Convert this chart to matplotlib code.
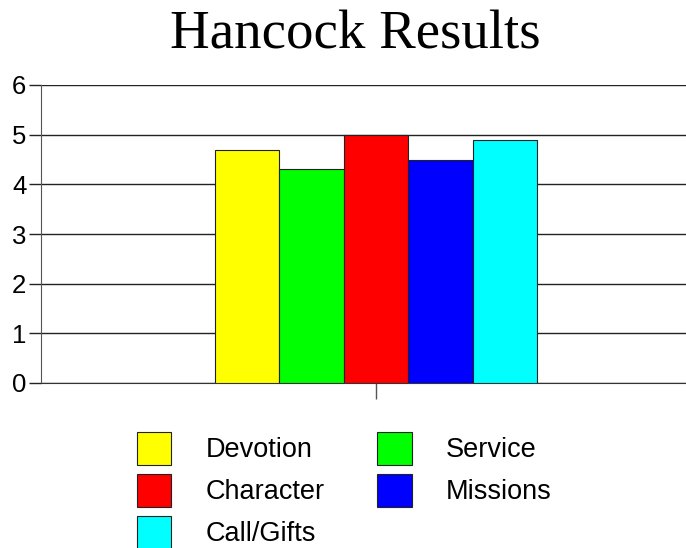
import matplotlib.pyplot as plt
import numpy as np
from matplotlib.patches import Patch

# Data
categories = ['Devotion', 'Service', 'Character', 'Missions', 'Call/Gifts']
scores     = [4.7, 4.3, 5.0, 4.5, 4.9]
colors     = ['#FFFF00', '#00FF00', '#FF0000', '#0000FF', '#00FFFF']
y_ticks    = [0, 1, 2, 3, 4, 5, 6]

title       = "Hancock Results"
output_file = "out.png"

plt.rcParams.update({
    'font.family': ['Liberation Sans', 'DejaVu Sans'],
    'font.size': 18,
})

fig = plt.figure(figsize=(6.86, 5.48), dpi=100)
fig.patch.set_facecolor('white')
ax = fig.add_axes([41 / 686, (548 - 383) / 548, 645 / 686, 298 / 548])

offsets = np.arange(len(categories)) - (len(categories) - 1) / 2
for off, val, col in zip(offsets, scores, colors):
    ax.bar(off, val, width=1.0, color=col, edgecolor='#222222',
           linewidth=0.8, zorder=3)

ax.set_xlim(-5.2, 4.81)
ax.set_ylim(0, 6)
ax.set_yticks(y_ticks)
ax.set_xticks([0])
ax.set_xticklabels([''])
ax.grid(True, axis='y', color='#222222', linewidth=1.0, zorder=0)
ax.set_axisbelow(True)

for side in ['top', 'right']:
    ax.spines[side].set_visible(False)
ax.spines['left'].set_color('#555555')
ax.spines['bottom'].set_color('#333333')
ax.tick_params(axis='y', direction='out', length=8.6, width=1.0,
               color='#222222', pad=2, labelsize=18.5)
ax.tick_params(axis='x', direction='out', length=11.5, width=1.0,
               color='#555555')

fig.text(355 / 686, 1 - 35 / 548, title, ha='center', va='center',
         family='Liberation Serif', fontsize=39.5)

# legend fills row by row in the reference, matplotlib fills by column
order = [0, 2, 4, 1, 3]
handles = [Patch(facecolor=colors[i], edgecolor='#222222', linewidth=0.8) for i in order]
labels = [categories[i] for i in order]
fig.legend(handles, labels, loc='upper left',
           bbox_to_anchor=(137 / 686, (548 - 432) / 548),
           ncol=2, frameon=False, fontsize=19.5,
           handlelength=1.26, handleheight=1.5, handletextpad=1.26,
           columnspacing=1.96, labelspacing=0.33,
           borderpad=0, borderaxespad=0)

fig.savefig(output_file, dpi=100, facecolor=fig.get_facecolor())
